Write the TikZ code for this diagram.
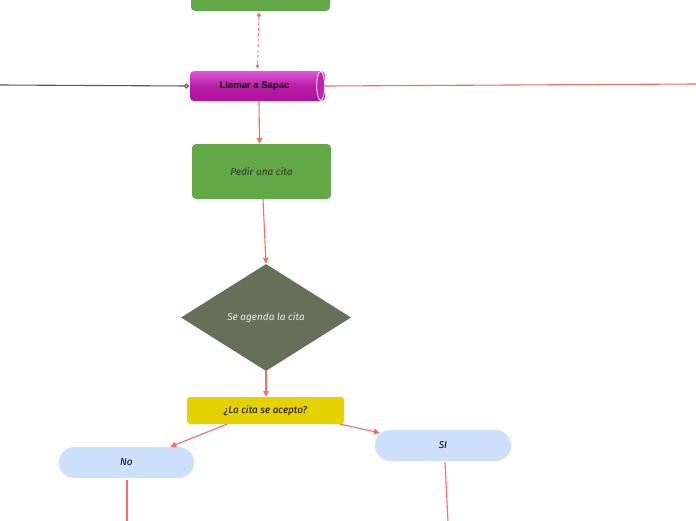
\documentclass[tikz,border=0pt]{standalone}
\usepackage{fontspec}
\setmainfont{Fira Sans}
\newfontfamily\labelfont{Liberation Sans}
\usetikzlibrary{shapes.geometric,arrows.meta,calc}
\definecolor{edgered}{HTML}{F46C6C}
\definecolor{boxgreen}{HTML}{62A846}
\definecolor{diagreen}{HTML}{667058}
\definecolor{qyellow}{HTML}{E6D200}
\definecolor{pillblue}{HTML}{CCE0FE}
\definecolor{magtop}{HTML}{E258D8}
\definecolor{magbot}{HTML}{B0129C}
\tikzset{
  conn/.style={draw=edgered, line width=1.1pt, -{Triangle[length=6pt,width=5.5pt]}},
  plainline/.style={draw=edgered, line width=1.1pt},
  greenbox/.style={rectangle, rounded corners=4pt, fill=boxgreen, minimum width=139pt, minimum height=55pt, inner sep=0pt, text=black!80, font=\itshape\fontsize{10}{12}\selectfont},
  pill/.style={rectangle, rounded corners=15.5pt, fill=pillblue, minimum width=135pt, minimum height=31pt, inner sep=0pt, font=\itshape\fontsize{10}{12}\selectfont},
}
\begin{document}
\begin{tikzpicture}[x=1pt,y=-1pt]
\useasboundingbox (0,0) rectangle (696,520);
\clip (0,0) rectangle (696,520);
\fill[white] (0,0) rectangle (696,520);
% top box (cut off)
\node[greenbox] (top) at (260.5,-16.5) {};
% cylinder
\node[rectangle, rounded corners=4pt, top color=magtop, bottom color=magbot, middle color=magbot!85!magtop, minimum width=135pt, minimum height=30pt, inner sep=0pt, font=\labelfont\bfseries\fontsize{9.5}{11}\selectfont] (call) at (257.5,86) {\hspace*{-6pt}Llamar a Sapac};
\draw[white, line width=0.8pt, fill=magbot!75!magtop] ($(call.east)+(-4.5,0)$) ellipse [x radius=4pt, y radius=14.5pt];
% dotted link
\draw[plainline, dashed, dash pattern=on 3pt off 2.5pt, {Circle[length=4pt]}-{Circle[length=3.5pt]}, line width=0.9pt] ($(top.south)+(-1.5,2)$) -- ($(call.north)+(0,-3)$);
% left line
\coordinate (leftend) at (0,85);
\draw[draw=black!65, line width=1.1pt, -{Circle[open,length=5pt,width=5pt]}] (leftend) -- ($(call.west)+(-1,0)$);
% right line
\coordinate (rightend) at (696,84);
\draw[plainline] (call.east) -- (rightend);
% pedir
\node[greenbox] (pedir) at (261.5,171.5) {Pedir una cita};
\draw[conn] (call.south -| 259,0) -- (pedir.north -| 259.5,0);
% diamond
\node[diamond, fill=diagreen, minimum width=170pt, minimum height=107pt, inner sep=0pt, aspect=1.59, text=white!92!black, font=\itshape\fontsize{10}{12}\selectfont] (dia) at (266,317.5) {Se agenda la cita};
\draw[conn] ($(pedir.south)+(1.5,0)$) -- (dia.north);
% question
\node[rectangle, rounded corners=3pt, fill=qyellow, minimum width=157pt, minimum height=27pt, inner sep=0pt, font=\itshape\fontsize{10}{12}\selectfont] (q) at (265.5,410.5) {¿La cita se acepto?};
\draw[conn] (dia.south) -- (q.north -| dia.south);
% pills
\node[pill] (no) at (126.5,462.5) {No};
\node[pill, minimum width=136pt] (si) at (443,445.5) {SI};
\draw[conn] ([xshift=40pt]q.south west) -- ([xshift=-24pt]no.north east);
\draw[conn] ([xshift=-4pt]q.south east) -- ([xshift=5pt,yshift=-3pt]si.north west);
% lines down
\coordinate (noend) at (127,522);
\coordinate (siend) at (448,522);
\draw[plainline] ($(no.south)+(0.5,2)$) -- (noend);
\draw[plainline] ($(si.south)+(2,1)$) -- (siend);
\end{tikzpicture}
\end{document}
